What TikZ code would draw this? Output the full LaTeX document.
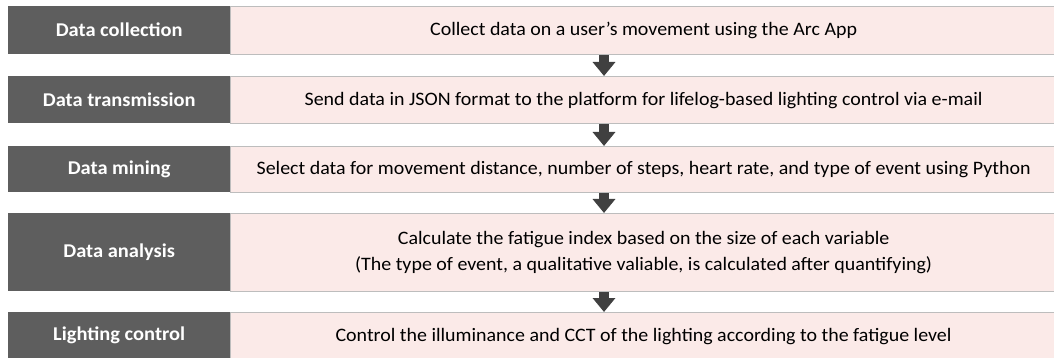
\documentclass[tikz,border=0pt]{standalone}
\usepackage{fontspec}
\setmainfont{Carlito}
\usetikzlibrary{arrows.meta}

\definecolor{stagegrey}{HTML}{5E5E5E}
\definecolor{descpink}{HTML}{FBEAE8}
\definecolor{edgegrey}{HTML}{BDBDBD}
\definecolor{arrowgrey}{HTML}{404040}

% slightly widened lettering
\newcommand{\wide}[1]{\scalebox{1.05}[1]{#1}}

\begin{document}
\begin{tikzpicture}[x=1pt,y=-1pt,
  stage/.style={anchor=north west, fill=stagegrey, text=white, inner sep=0pt,
    minimum width=222pt, font=\bfseries\fontsize{19.5}{22}\selectfont},
  desc/.style={anchor=north west, fill=descpink, draw=edgegrey, line width=1.2pt,
    inner sep=0pt, minimum width=826pt, align=center,
    font=\fontsize{19}{25.6}\selectfont},
  flow/.style={draw=arrowgrey, line width=10pt,
    -{Triangle[length=14pt,width=22pt]}, shorten >=0pt}
]
\useasboundingbox (0,0) rectangle (1054,358);
\clip (0,0) rectangle (1054,358);

% stage labels (left column)
\node[stage, minimum height=48pt] (s1) at (8,6)   {\wide{Data collection}};
\node[stage, minimum height=47pt] (s2) at (8,76)  {\wide{Data transmission}};
\node[stage, minimum height=46pt] (s3) at (8,146) {\wide{Data mining}};
\node[stage, minimum height=78pt] (s4) at (8,213) {\wide{Data analysis}};
\node[stage, minimum height=47pt] (s5) at (8,312) {\wide{Lighting control}};

% descriptions (right column)
\node[desc, minimum height=48pt] (d1) at (230,6)
  {\wide{Collect data on a user’s movement using the Arc App}};
\node[desc, minimum height=47pt] (d2) at (230,76)
  {\wide{Send data in JSON format to the platform for lifelog-based lighting control via e-mail}};
\node[desc, minimum height=46pt] (d3) at (230,146)
  {\wide{Select data for movement distance, number of steps, heart rate, and type of event using Python}};
\node[desc, minimum height=78pt] (d4) at (230,213)
  {\wide{Calculate the fatigue index based on the size of each variable}\\
   \wide{(The type of event, a qualitative valiable, is calculated after quantifying)}};
\node[desc, minimum height=47pt] (d5) at (230,312)
  {\wide{Control the illuminance and CCT of the lighting according to the fatigue level}};

% flow arrows between consecutive stages
\coordinate (ax) at (604,0);
\foreach \a/\b in {d1/d2,d2/d3,d3/d4,d4/d5}
  \draw[flow] (\a.south -| ax) -- (\b.north -| ax);
\end{tikzpicture}
\end{document}
